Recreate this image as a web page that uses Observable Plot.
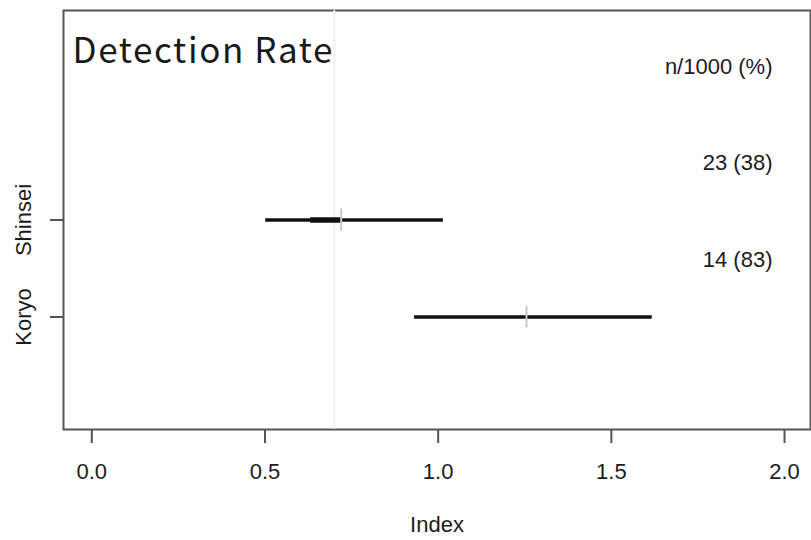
<!DOCTYPE html>
<html>
<head>
<meta charset="utf-8">
<script src="https://cdn.jsdelivr.net/npm/d3@7"></script>
<script src="https://cdn.jsdelivr.net/npm/@observablehq/plot@0.6"></script>
<style>
  html, body { margin: 0; padding: 0; background: #fff; }
  #chart svg { display: block; }
  .title-text text { letter-spacing: 1.6px; }
</style>
</head>
<body>
<div id="chart"></div>
<script>
// ---- data ----
const groups = ["Shinsei", "Koryo"];
const groupPos = [2, 1];
const lower = [0.502, 0.932];
const upper = [1.015, 1.618];
const estimate = [0.72, 1.255];
const coreGroup = ["Shinsei"];
const coreLower = [0.632];
const coreUpper = [0.722];
const refValue = 0.7;
const countLabels = ["23 (38)", "14 (83)"];
const countPos = [2.59, 1.59];
const headerLabel = "n/1000 (%)";
const headerPos = 3.58;
const xTicks = [0, 0.5, 1, 1.5, 2];
const titleText = "Detection Rate";
const xLabel = "Index";

// ---- tables ----
const rows = groups.map((g, i) => ({
  group: g, pos: groupPos[i], lo: lower[i], hi: upper[i], est: estimate[i]
}));
const coreRows = coreGroup.map((g, i) => ({
  pos: groupPos[groups.indexOf(g)], lo: coreLower[i], hi: coreUpper[i]
}));
const textRows = countLabels.map((t, i) => ({ text: t, pos: countPos[i] }))
  .concat([{ text: headerLabel, pos: headerPos }]);

const ink = "#1c1c1c";
const font = "'Liberation Sans', Arial, sans-serif";

const chart = Plot.plot({
  width: 811,
  height: 540,
  marginLeft: 63,
  marginRight: 1,
  marginTop: 10,
  marginBottom: 111,
  style: { fontFamily: font, background: "#fff", color: ink },
  x: { domain: [-0.0817, 2.075], axis: null },
  y: { domain: [-0.16, 4.16], axis: null },
  marks: [
    Plot.frame({ stroke: "#555", strokeWidth: 2 }),
    Plot.ruleX([refValue], { y1: -0.16, y2: 4.16, stroke: "#f0f0f0", strokeWidth: 1.8 }),
    Plot.axisX({
      ticks: xTicks, tickFormat: d3.format(".1f"), tickSize: 14, tickPadding: 20,
      fontSize: 22, stroke: "#555", strokeWidth: 2, label: null, color: ink
    }),
    Plot.axisY({
      ticks: groupPos, tickFormat: () => "", tickSize: 13,
      stroke: "#555", strokeWidth: 2, label: null
    }),
    Plot.text(rows, {
      y: "pos", text: "group", frameAnchor: "left", dx: -40, rotate: -90,
      textAnchor: "middle", lineAnchor: "middle", fontSize: 22, fill: ink
    }),
    Plot.ruleY(rows, { y: "pos", x1: "lo", x2: "hi", stroke: "#111", strokeWidth: 3.5 }),
    Plot.ruleY(coreRows, { y: "pos", x1: "lo", x2: "hi", stroke: "#111", strokeWidth: 5.5 }),
    Plot.ruleX(rows, {
      x: "est", y1: d => d.pos - 0.113, y2: d => d.pos + 0.113,
      stroke: "#c5c8ce", strokeWidth: 2
    }),
    Plot.text(textRows, {
      y: "pos", text: "text", frameAnchor: "right", dx: -38,
      textAnchor: "end", lineAnchor: "middle", fontSize: 22, fill: ink
    }),
    Plot.text([titleText], {
      text: d => d, frameAnchor: "top-left", dx: 9, dy: 27.6,
      textAnchor: "start", lineAnchor: "top", fontSize: 35,
      fontFamily: "'Noto Sans CJK JP', 'Noto Sans', sans-serif", fill: "#1a1a1a",
      className: "title-text"
    }),
    Plot.text([xLabel], {
      text: d => d, frameAnchor: "bottom", dy: 95,
      textAnchor: "middle", lineAnchor: "middle", fontSize: 22, fill: ink
    })
  ]
});
document.getElementById("chart").appendChild(chart);
</script>
</body>
</html>
